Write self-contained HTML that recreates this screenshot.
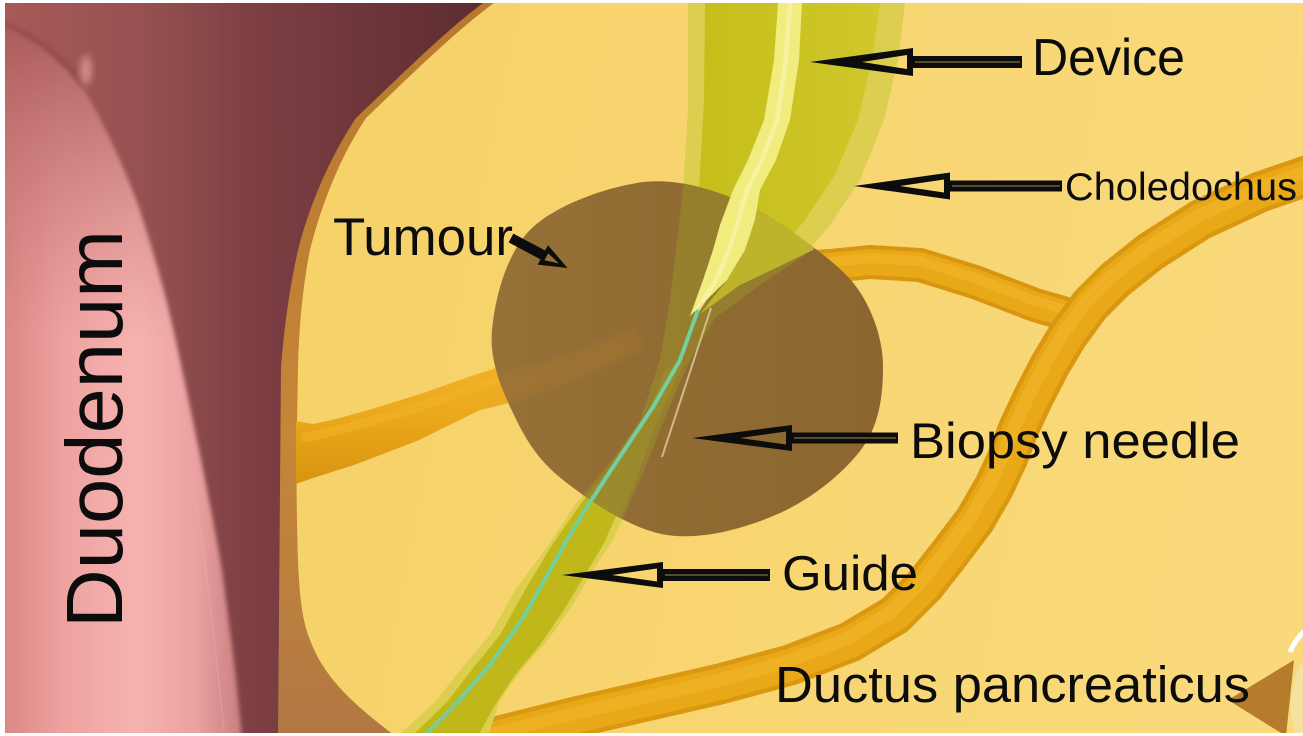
<!DOCTYPE html>
<html><head><meta charset="utf-8"><style>
html,body{margin:0;padding:0;background:#fff;}
svg{display:block;}
text{font-family:"Liberation Sans",sans-serif;fill:#0c0c0c;}
</style></head><body>
<svg width="1303" height="736" viewBox="0 0 1303 736" xmlns="http://www.w3.org/2000/svg">
<defs>
  <clipPath id="frame"><rect x="5" y="3" width="1298" height="730"/></clipPath>
  <clipPath id="tum"><path d="M637,183 C670.3,177.5 700.7,186.3 730,197 C759.3,207.7 790.8,230.3 813,247 C835.2,263.7 851.3,277 863,297 C874.7,317 883,342 883,367 C883,392 880.2,422.7 863,447 C845.8,471.3 812.7,498.3 780,513 C747.3,527.7 703.2,540.5 667,535 C630.8,529.5 588.7,500.3 563,480 C537.3,459.7 524.8,438 513,413 C501.2,388 489.2,360.5 492,330 C494.8,299.5 505.8,254.5 530,230 C554.2,205.5 603.7,188.5 637,183 Z"/></clipPath>
  <linearGradient id="maroon" gradientUnits="userSpaceOnUse" x1="5" y1="0" x2="490" y2="0">
    <stop offset="0" stop-color="#a85a58"/>
    <stop offset="0.3" stop-color="#94504f"/>
    <stop offset="0.53" stop-color="#7c3e43"/>
    <stop offset="1" stop-color="#5c2c30"/>
  </linearGradient>
  <linearGradient id="pink" gradientUnits="userSpaceOnUse" x1="5" y1="0" x2="245" y2="0">
    <stop offset="0" stop-color="#dc8886"/>
    <stop offset="0.25" stop-color="#eea3a0"/>
    <stop offset="0.55" stop-color="#f5b3b0"/>
    <stop offset="0.8" stop-color="#eaa1a0"/>
    <stop offset="1" stop-color="#c67c7e"/>
  </linearGradient>
  <linearGradient id="pinktop" gradientUnits="userSpaceOnUse" x1="0" y1="20" x2="0" y2="340">
    <stop offset="0" stop-color="#a65856" stop-opacity="0.95"/>
    <stop offset="0.45" stop-color="#b86a68" stop-opacity="0.55"/>
    <stop offset="1" stop-color="#c87a78" stop-opacity="0"/>
  </linearGradient>
  <linearGradient id="yel" gradientUnits="userSpaceOnUse" x1="300" y1="0" x2="1303" y2="200">
    <stop offset="0" stop-color="#f6d168"/>
    <stop offset="0.5" stop-color="#f8d570"/>
    <stop offset="1" stop-color="#f9d97c"/>
  </linearGradient>
  <linearGradient id="band" gradientUnits="userSpaceOnUse" x1="0" y1="0" x2="0" y2="736">
    <stop offset="0" stop-color="#b8782e"/>
    <stop offset="0.6" stop-color="#c58638"/>
    <stop offset="1" stop-color="#b27844"/>
  </linearGradient>
  <linearGradient id="lduct" gradientUnits="userSpaceOnUse" x1="0" y1="370" x2="0" y2="480">
    <stop offset="0" stop-color="#f0b026"/>
    <stop offset="0.5" stop-color="#e9a619"/>
    <stop offset="1" stop-color="#d89512"/>
  </linearGradient>
  <linearGradient id="tumg" gradientUnits="userSpaceOnUse" x1="490" y1="0" x2="885" y2="0">
    <stop offset="0" stop-color="#967238"/>
    <stop offset="0.45" stop-color="#906c33"/>
    <stop offset="1" stop-color="#8b6630"/>
  </linearGradient>
  <linearGradient id="dev" gradientUnits="userSpaceOnUse" x1="700" y1="0" x2="880" y2="0">
    <stop offset="0" stop-color="#c6be1a"/>
    <stop offset="1" stop-color="#d0c82c"/>
  </linearGradient>
  <filter id="b2" x="-20%" y="-20%" width="140%" height="140%"><feGaussianBlur stdDeviation="2"/></filter>
  <filter id="b4" x="-50%" y="-50%" width="200%" height="200%"><feGaussianBlur stdDeviation="4"/></filter>
</defs>

<rect x="0" y="0" width="1303" height="736" fill="#ffffff"/>
<g clip-path="url(#frame)">
  <!-- duodenum base -->
  <rect x="5" y="3" width="520" height="733" fill="url(#maroon)"/>
  <g filter="url(#b2)">
    <path d="M0,26 C35,40 68,66 85,92 C105,125 125,170 138,205 C155,255 170,310 180,360 C195,430 212,510 222,570 C230,630 238,690 242,740 L0,740 Z" fill="url(#pink)"/>
    <path d="M0,26 C35,40 68,66 85,92 C105,125 125,170 138,205 C155,255 170,310 180,360 C195,430 212,510 222,570 C230,630 238,690 242,740 L0,740 Z" fill="url(#pinktop)"/>
  </g>
  <path d="M5,24 C35,36 62,55 82,86" fill="none" stroke="#7e3c3c" stroke-width="4" opacity="0.45" filter="url(#b2)"/>
  <ellipse cx="86" cy="70" rx="5" ry="15" fill="#eaa6a2" opacity="0.8" filter="url(#b4)"/>
  <path d="M196,500 C205,560 215,640 224,731" fill="none" stroke="#f0b0ae" stroke-width="1.5" opacity="0.35"/>

  <!-- pancreas -->
  <path d="M483,3 C444,32 394,82 356,118 C328,160 308,210 298,250 C289,290 284,330 281,367 L278,736 L1303,736 L1303,3 Z" fill="url(#band)"/>
  <path d="M494,3 C454,32 404,82 366,118 C338,160 320,210 310,250 C302,290 299,330 298,367 C297,420 296,480 297,520 C298,580 300,615 310,640 C325,680 355,705 395,736 L1303,736 L1303,3 Z" fill="url(#yel)"/>

  <!-- left branch duct -->
  <path d="M296,421 L313,424 L340,418 L375,408 L420,394 L480,373 L530,358 L530,398 L480,410 L417,441 L354,465 L313,478 L296,484 Z" fill="url(#lduct)"/>
  <path d="M302,438 C340,431 400,414 470,389 L530,371" fill="none" stroke="#f1b42a" stroke-width="9" opacity="0.6"/>

  <!-- right branch duct -->
  <g fill="none" stroke-linejoin="round">
    <path d="M800,268 L830,266 L870,262 L920,265 L975,282 L1035,305 L1080,318" stroke="#d99510" stroke-width="34"/>
    <path d="M800,268 L830,266 L870,262 L920,265 L975,282 L1035,305 L1080,318" stroke="#e9a818" stroke-width="26"/>
    <path d="M800,268 L830,266 L870,262 L920,265 L975,282 L1035,305 L1080,318" stroke="#efb124" stroke-width="10" transform="translate(0,-4)"/>
  </g>
  <!-- main duct -->
  <g fill="none" stroke-linejoin="round">
    <path d="M1330,168 L1260,192 L1200,220 L1150,252 L1115,280 L1090,305 L1068,335 L1050,365 L1033,398 L1018,430 L1008,457 L994,487 L975,520 L950,553 L925,585 L895,615 L850,642 L790,665 L720,684 L650,700 L580,716 L500,736 L460,748" stroke="#da9710" stroke-width="41"/>
    <path d="M1330,168 L1260,192 L1200,220 L1150,252 L1115,280 L1090,305 L1068,335 L1050,365 L1033,398 L1018,430 L1008,457 L994,487 L975,520 L950,553 L925,585 L895,615 L850,642 L790,665 L720,684 L650,700 L580,716 L500,736 L460,748" stroke="#e9a818" stroke-width="32"/>
    <path d="M1330,168 L1260,192 L1200,220 L1150,252 L1115,280 L1090,305 L1068,335 L1050,365 L1033,398 L1018,430 L1008,457 L994,487 L975,520 L950,553 L925,585 L895,615 L850,642 L790,665 L720,684 L650,700 L580,716 L500,736 L460,748" stroke="#efb124" stroke-width="13" transform="translate(-4,-3)"/>
  </g>

  <!-- tube (choledochus + guide) -->
  <path d="M688,3 L688,110 L683,190 L676,250 L670,300 L660,360 L640,420 L610,463 L575,505 L545,550 L515,590 L490,635 L460,670 L436,701 L398,736 L488,736 L500,700 L523,668 L548,640 L573,605 L590,575 L613,540 L640,480 L667,413 L690,360 L715,318 L760,285 L805,255 L830,225 L860,180 L884,120 L898,60 L905,3 Z" fill="#dccf50"/>
  <path d="M705,3 L880,3 L872,60 L858,120 L835,175 L805,220 L770,262 L720,300 L685,312 L692,250 L699,190 L704,100 Z" fill="url(#dev)"/>
  <path d="M660,380 L640,420 L612,462 L580,505 L552,545 L525,590 L500,635 L470,672 L447,702 L412,736 L478,736 L495,705 L515,675 L540,645 L564,610 L582,580 L603,545 L628,490 L655,420 L680,370 Z" fill="#c0b81b"/>

  <!-- tumour -->
  <path d="M637,183 C670.3,177.5 700.7,186.3 730,197 C759.3,207.7 790.8,230.3 813,247 C835.2,263.7 851.3,277 863,297 C874.7,317 883,342 883,367 C883,392 880.2,422.7 863,447 C845.8,471.3 812.7,498.3 780,513 C747.3,527.7 703.2,540.5 667,535 C630.8,529.5 588.7,500.3 563,480 C537.3,459.7 524.8,438 513,413 C501.2,388 489.2,360.5 492,330 C494.8,299.5 505.8,254.5 530,230 C554.2,205.5 603.7,188.5 637,183 Z" fill="url(#tumg)"/>
  <g clip-path="url(#tum)">
    <path d="M480,382 L560,358 L635,328 L642,350 L560,385 L480,412 Z" fill="#b07a30" opacity="0.35" filter="url(#b4)"/>
    <path d="M688,3 L688,110 L683,190 L676,250 L670,300 L660,360 L640,420 L610,463 L575,505 L545,550 L515,590 L613,540 L640,480 L667,413 L690,360 L715,318 L760,285 L805,255 L830,225 L860,180 Z" fill="#9c9228" opacity="0.5"/>
    <path d="M665,370 L645,420 L612,465 L575,510 L548,550 L608,545 L632,490 L658,420 L684,362 Z" fill="#a3a02a" opacity="0.35"/>
    <path d="M760,190 L755,220 L745,250 L727,280 L700,314 L740,285 L780,266 L813,250 L840,215 L860,180 L870,150 L790,150 Z" fill="#c0b82c" opacity="0.92"/>
  </g>

  <!-- device highlight stripe -->
  <path d="M778,3 L774,60 L764,120 L748,160 L733,190 L720,225 L713,250 L703,280 L690,316 L727,280 L745,250 L755,220 L760,190 L776,160 L790,120 L799,60 L802,3 Z" fill="#f1ec7e"/>
  <path d="M790,3 L786,60 L777,120 L762,160 L747,190 L737,225 L729,250 L715,282 L696,312" fill="none" stroke="#f8f4a6" stroke-width="5" stroke-linejoin="round" opacity="0.8"/>

  <!-- guide wire -->
  <path d="M698,310 L680,360 L653,407 L613,467 L585,510 L567,540 L540,588 L523,618 L490,665 L455,705 L420,740" fill="none" stroke="#74cf9e" stroke-width="4" stroke-linejoin="round"/>
  <!-- biopsy needle -->
  <path d="M711,308 L662,457" stroke="#dcc996" stroke-width="2" opacity="0.85"/>

  <!-- bottom right feature -->
  <path d="M1228,700 L1294,660 L1286,736 Z" fill="#b47c2c"/>
  <ellipse cx="1336" cy="705" rx="45" ry="66" fill="#f5e2a0"/>
  <path d="M1290,652 Q1296,638 1306,630" fill="none" stroke="#ffffff" stroke-width="5"/>
</g>

<!-- arrows -->
<g fill="#0c0c0c" fill-rule="evenodd">
  <path d="M810,62 L913,48 L913,56 L1022,56 L1022,68 L913,68 L913,76 Z M862,62 L907,55 L907,69 Z"/>
  <path d="M854,186 L950,172.5 L950,180.5 L1062,180.5 L1062,191.5 L950,191.5 L950,199.5 Z M900,186 L944,179.5 L944,192.5 Z"/>
  <path d="M692,438 L792,425 L792,432.5 L898,432.5 L898,443.5 L792,443.5 L792,451 Z M740,438 L786,431.5 L786,444.5 Z"/>
  <path d="M562,575 L663,562 L663,569 L770,569 L770,581 L663,581 L663,588 Z M612,575 L657,568.5 L657,581.5 Z"/>
  <g transform="translate(511,238) rotate(28)">
    <path d="M0,-5 L36,-5 L36,-11 L64,0 L36,11 L36,5 L0,5 Z M40,-4 L54,0 L40,4 Z"/>
  </g>
</g>
<g stroke="#c9b46a" stroke-width="1.2" opacity="0.6">
  <line x1="915" y1="62" x2="1020" y2="62"/>
  <line x1="952" y1="186" x2="1060" y2="186"/>
  <line x1="794" y1="438" x2="896" y2="438"/>
  <line x1="665" y1="575" x2="768" y2="575"/>
</g>

<!-- labels -->
<text x="1032" y="75" font-size="52" textLength="153" lengthAdjust="spacingAndGlyphs">Device</text>
<text x="1065" y="200" font-size="39" textLength="232" lengthAdjust="spacingAndGlyphs">Choledochus</text>
<text x="333" y="255" font-size="53" textLength="180" lengthAdjust="spacingAndGlyphs">Tumour</text>
<text x="910" y="458" font-size="50" textLength="330" lengthAdjust="spacingAndGlyphs">Biopsy needle</text>
<text x="782" y="590" font-size="49" textLength="136" lengthAdjust="spacingAndGlyphs">Guide</text>
<text x="775" y="702" font-size="51" textLength="475" lengthAdjust="spacingAndGlyphs">Ductus pancreaticus</text>
<text transform="translate(122,628) rotate(-90)" font-size="80" textLength="398" lengthAdjust="spacingAndGlyphs">Duodenum</text>
</svg>
</body></html>
